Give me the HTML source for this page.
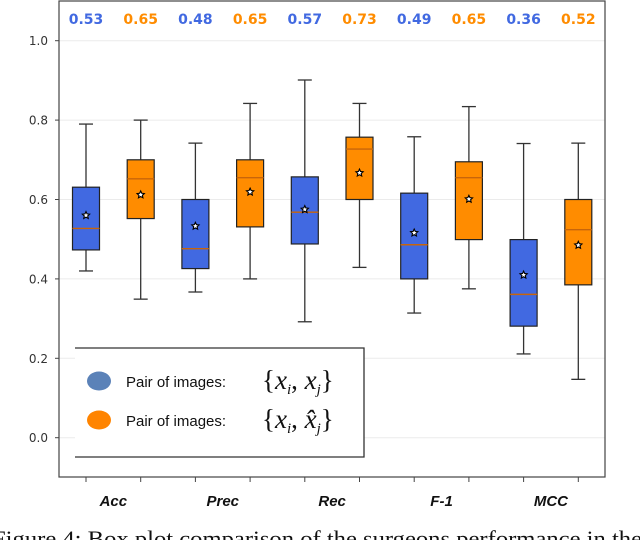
<!DOCTYPE html>
<html><head><meta charset="utf-8"><style>
html,body{margin:0;padding:0;background:#fff;width:640px;height:540px;overflow:hidden}
svg{display:block}
</style></head><body>
<svg id="chart" width="640" height="540" viewBox="0 0 640 540" xmlns="http://www.w3.org/2000/svg" font-family="'DejaVu Sans', 'Liberation Sans', sans-serif">
<g id="grid"></g>
<g id="boxes"></g>
<g id="axes"></g>
</svg>
<script>
const categories = ['Acc','Prec','Rec','F-1','MCC'];
const series = ['pair','pairHat'];
const whiskerHigh = [0.79,0.80,0.742,0.842,0.901,0.842,0.758,0.834,0.741,0.742];
const q3 = [0.631,0.70,0.60,0.70,0.657,0.757,0.616,0.695,0.499,0.60];
const medians = [0.527,0.652,0.476,0.655,0.568,0.727,0.486,0.655,0.361,0.524];
const q1 = [0.473,0.552,0.426,0.531,0.488,0.60,0.40,0.499,0.281,0.385];
const whiskerLow = [0.42,0.349,0.367,0.40,0.292,0.429,0.314,0.375,0.211,0.147];
const means = [0.56,0.612,0.533,0.619,0.575,0.667,0.516,0.601,0.41,0.485];
const topLabels = ['0.53','0.65','0.48','0.65','0.57','0.73','0.49','0.65','0.36','0.52'];
const yTicks = [0.0,0.2,0.4,0.6,0.8,1.0];

const NS='http://www.w3.org/2000/svg';
const colors=['#4169e1','#ff8c00'];
const yScale=v=>437.7-v*397;
const xScale=i=>86+i*54.7;
const L=59,R=605,T=1,B=477;
function mk(tag,attrs,parent){const e=document.createElementNS(NS,tag);for(const k in attrs)e.setAttribute(k,attrs[k]);parent.appendChild(e);return e;}
const grid=document.getElementById('grid'),boxes=document.getElementById('boxes'),axes=document.getElementById('axes');

yTicks.forEach(t=>{
  const y=yScale(t);
  const g=mk('line',{x1:L,x2:R,y1:y,y2:y,stroke:'#ebebeb','stroke-width':1},grid);
  
  
  const tk=mk('line',{x1:L-4,x2:L,y1:y,y2:y,stroke:'#444','stroke-width':1},axes);
  
  
  const tx=mk('text',{x:L-11,y:y+4.5,'text-anchor':'end','font-size':'12',fill:'#333'},axes);
  tx.textContent=t.toFixed(1);
  
  
});

whiskerHigh.forEach((_,i)=>{
  const cx=xScale(i),w=27,c=colors[i%2];
  const g=mk('g',{},boxes);
  
  
  mk('line',{x1:cx,x2:cx,y1:yScale(whiskerHigh[i]),y2:yScale(q3[i]),stroke:'#333','stroke-width':1.3},g);
  mk('line',{x1:cx,x2:cx,y1:yScale(q1[i]),y2:yScale(whiskerLow[i]),stroke:'#333','stroke-width':1.3},g);
  mk('line',{x1:cx-7,x2:cx+7,y1:yScale(whiskerHigh[i]),y2:yScale(whiskerHigh[i]),stroke:'#333','stroke-width':1.3},g);
  mk('line',{x1:cx-7,x2:cx+7,y1:yScale(whiskerLow[i]),y2:yScale(whiskerLow[i]),stroke:'#333','stroke-width':1.3},g);
  mk('rect',{x:cx-w/2,y:yScale(q3[i]),width:w,height:yScale(q1[i])-yScale(q3[i]),fill:c,stroke:'#222','stroke-width':1.2},g);
  mk('line',{x1:cx-w/2,x2:cx+w/2,y1:yScale(medians[i]),y2:yScale(medians[i]),stroke:'#c8650a','stroke-width':1.4},g);
  const my=yScale(means[i]);
  let pts=[];for(let k=0;k<10;k++){const a=-Math.PI/2+k*Math.PI/5,r=k%2?1.8:3.8;pts.push((cx+r*Math.cos(a)).toFixed(2)+','+(my+r*Math.sin(a)).toFixed(2));}
  mk('polygon',{points:pts.join(' '),fill:'#fff',stroke:'#000','stroke-width':1.1},g);
  const lb=mk('text',{x:cx,y:24,'text-anchor':'middle','font-size':'14','font-weight':'bold',fill:c},axes);
  lb.textContent=topLabels[i];
  
  
  const xt=mk('line',{x1:cx,x2:cx,y1:B,y2:B+5,stroke:'#444','stroke-width':1},axes);
  
  
});

categories.forEach((c,j)=>{
  const x=(xScale(2*j)+xScale(2*j+1))/2;
  const t=mk('text',{x:x,y:506,'text-anchor':'middle','font-size':'15','font-weight':'bold','font-style':'italic','font-family':"'Liberation Sans', sans-serif",fill:'#111'},axes);
  t.textContent=c;
  
  
});

const fr=mk('rect',{x:L,y:T,width:R-L,height:B-T,fill:'none',stroke:'#444','stroke-width':1.2},axes);



const leg=mk('g',{},axes);


mk('rect',{x:75,y:348,width:289,height:109,fill:'#fff',stroke:'none'},leg);
mk('path',{d:'M75 348 H364 V457 H75',fill:'none',stroke:'#333','stroke-width':1.3},leg);
[['#5b82b8',381,'x','j',false],['#ff8400',420,'x','j',true]].forEach((e,k)=>{
  const g=mk('g',{},leg);
  
  
  mk('ellipse',{cx:99,cy:e[1],rx:12,ry:9.5,fill:e[0]},g);
  const t=mk('text',{x:126,y:e[1]+6,'font-size':'15','font-family':"'Liberation Sans', sans-serif",fill:'#111'},g);
  t.textContent='Pair of images:';
  const m=mk('text',{x:262,y:e[1]+8,'font-size':'27','font-family':"'Liberation Serif', serif",fill:'#111'},g);
  m.innerHTML='{<tspan font-style="italic">x</tspan><tspan font-size="15" font-style="italic" dy="5">i</tspan><tspan dy="-5">, </tspan><tspan font-style="italic">'+(e[4]?'x̂':'x')+'</tspan><tspan font-size="15" font-style="italic" dy="5">j</tspan><tspan dy="-5">}</tspan>';
});

const cap=mk('text',{x:-8,y:546,'font-size':'22','font-family':"'Liberation Serif', serif",fill:'#111',textLength:650,lengthAdjust:'spacingAndGlyphs'},axes);
cap.textContent='Figure 4: Box plot comparison of the surgeons performance in the';


</script>
</body></html>
